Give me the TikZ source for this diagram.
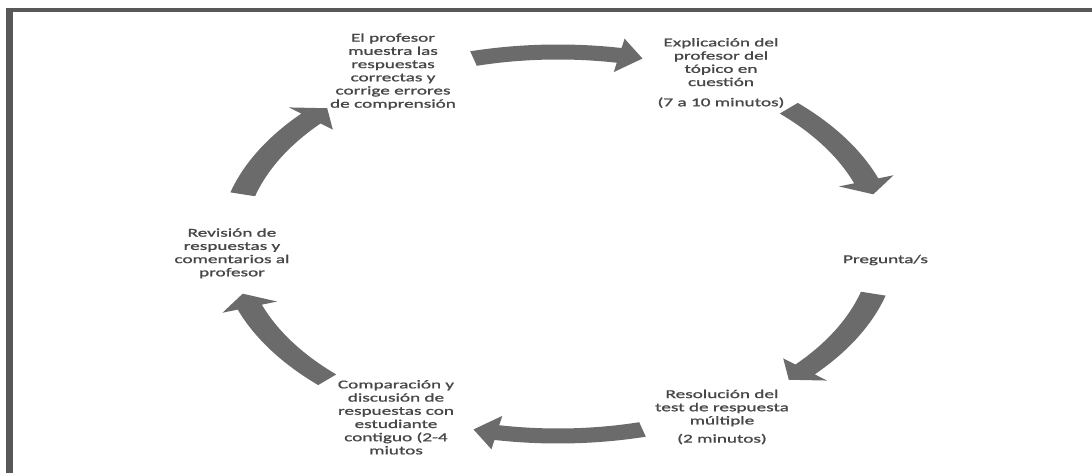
\documentclass[tikz,border=0pt]{standalone}
\usepackage{fontspec}
\setmainfont{Carlito}[FakeStretch=1.6,FakeBold=1.2]
\definecolor{arrowgray}{HTML}{6B6B6B}
\definecolor{textgray}{HTML}{474747}
\definecolor{framegray}{HTML}{585858}
\newcommand\cycarrow[1]{%
  \pgfmathsetmacro\cyA{#1+15}%
  \pgfmathsetmacro\cyB{#1-10.8}%
  \pgfmathsetmacro\cyC{#1-15}%
  \fill[arrowgray] (\cyA:199.5) arc[start angle=\cyA, end angle=\cyB, radius=199.5]
    -- (\cyB:209) -- (\cyC:192) -- (\cyB:175) -- (\cyB:184.5)
    arc[start angle=\cyB, end angle=\cyA, radius=184.5] -- cycle;}
\begin{document}
\begin{tikzpicture}[x=1pt,y=1pt,
  txt/.style={align=center, text=textgray, inner sep=0pt, font=\fontsize{12}{13.2}\selectfont}]
\useasboundingbox (0,0) rectangle (1092,473);
\fill[white] (0,0) rectangle (1092,473);
% frame
\fill[framegray] (6,0) rectangle (13,465);
\fill[framegray] (6,461) rectangle (1092,465);
% texts
\node[txt] (n1) at (393,401.5) {El profesor\\muestra las\\respuestas\\correctas y\\corrige errores\\de comprensión};
\node[txt] (n2) at (721,400) {Explicación del\\profesor del\\tópico en\\cuestión\\[7pt](7 a 10 minutos)};
\node[txt] (n3) at (885.5,213) {Pregunta/s};
\node[txt] (n4) at (722,56) {Resolución del\\test de respuesta\\múltiple\\[5pt](2 minutos)};
\node[txt] (n5) at (396,55.7) {Comparación y\\discusión de\\respuestas con\\estudiante\\contiguo (2-4\\miutos};
\node[txt] (n6) at (232,219.7) {Revisión de\\respuestas y\\comentarios al\\profesor};
% cycle arrows
\begin{scope}[shift={(558,229)}, xscale=1.7]
  \cycarrow{90}
  \cycarrow{30}
  \cycarrow{-30}
  \cycarrow{-90}
  \cycarrow{210}
  \cycarrow{150}
\end{scope}
\end{tikzpicture}
\end{document}
